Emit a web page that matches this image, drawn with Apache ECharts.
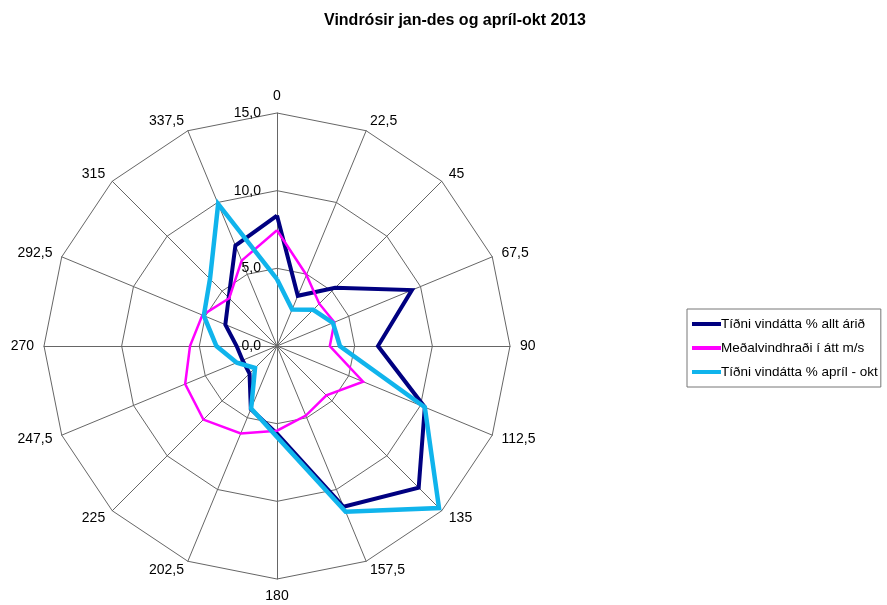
<!DOCTYPE html>
<html>
<head>
<meta charset="utf-8">
<script src="https://cdn.jsdelivr.net/npm/echarts@6/dist/echarts.min.js"></script>
<style>
  html, body { margin: 0; padding: 0; background: #fff; }
  #chart { width: 887px; height: 605px; }
</style>
</head>
<body>
<div id="chart"></div>
<script>
// Directions (degrees, clockwise from north)
const directions = ['0', '22,5', '45', '67,5', '90', '112,5', '135', '157,5',
                    '180', '202,5', '225', '247,5', '270', '292,5', '315', '337,5'];
// Series values, in the order of `directions`
const freqYear   = [8.4, 3.5, 5.3, 9.4, 6.5, 10.3, 12.9, 11.2, 5.65, 4.4, 2.5, 2.4, 2.6, 3.6, 4.4, 7.0];
const meanSpeed  = [7.45, 4.95, 3.85, 4.0, 3.4, 6.0, 4.5, 4.85, 5.45, 6.1, 6.7, 6.4, 5.6, 5.2, 4.35, 5.95];
const freqAprOct = [4.3, 2.55, 3.3, 3.9, 4.05, 10.3, 14.75, 11.55, 5.85, 4.35, 2.0, 2.8, 3.9, 5.1, 6.1, 9.9];
const seriesNames = ['Tíðni vindátta % allt árið', 'Meðalvindhraði í átt m/s', 'Tíðni vindátta % apríl - okt'];
const axisMax = 15;

// ECharts radar runs counter-clockwise; reorder so the directions run clockwise.
const order = [0].concat(directions.map((_, i) => i).slice(1).reverse());
const reorder = arr => order.map(i => arr[i]);

const indicator = order.map((i, k) => {
  const ind = { name: directions[i], min: 0, max: axisMax };
  if (k === 0) ind.axisLabel = { show: true };
  return ind;
});

const chart = echarts.init(document.getElementById('chart'));
chart.setOption({
  animation: false,
  backgroundColor: '#ffffff',
  title: {
    text: 'Vindrósir jan-des og apríl-okt 2013',
    left: 450,
    textAlign: 'center',
    top: 8,
    textStyle: { fontFamily: 'Arial, Liberation Sans', fontSize: 16, fontWeight: 'bold', color: '#000' }
  },
  legend: {
    orient: 'vertical',
    left: 687,
    top: 309,
    width: 194,
    padding: [8, 3, 8, 5],
    borderColor: '#777',
    borderWidth: 1,
    itemWidth: 29,
    itemHeight: 4,
    itemGap: 10,
    icon: 'rect',
    textStyle: { fontFamily: 'Arial, Liberation Sans', fontSize: 13.5, color: '#000', padding: [0, 0, 0, -5] },
    data: seriesNames
  },
  radar: {
    center: [277, 346],
    radius: 233,
    startAngle: 90,
    shape: 'polygon',
    splitNumber: 3,
    indicator: indicator,
    axisName: {
      color: '#000',
      fontFamily: 'Arial, Liberation Sans',
      fontSize: 14
    },
    nameGap: 10,
    axisLine: { lineStyle: { color: '#666666', width: 1 } },
    splitLine: { lineStyle: { color: '#666666', width: 1 } },
    splitArea: { show: false },
    axisTick: { show: false },
    axisLabel: {
      show: false,
      margin: 16,
      color: '#000',
      fontFamily: 'Arial, Liberation Sans',
      fontSize: 14,
      formatter: v => v.toFixed(1).replace('.', ',')
    }
  },
  series: [{
    type: 'radar',
    symbol: 'none',
    data: [
      { name: seriesNames[0], value: reorder(freqYear),
        lineStyle: { color: '#000080', width: 4, join: 'miter' }, itemStyle: { color: '#000080' } },
      { name: seriesNames[1], value: reorder(meanSpeed),
        lineStyle: { color: '#FF00FF', width: 2.5, join: 'miter' }, itemStyle: { color: '#FF00FF' } },
      { name: seriesNames[2], value: reorder(freqAprOct),
        lineStyle: { color: '#10B4EC', width: 4.5, join: 'miter' }, itemStyle: { color: '#10B4EC' } }
    ]
  }]
});
</script>
</body>
</html>
